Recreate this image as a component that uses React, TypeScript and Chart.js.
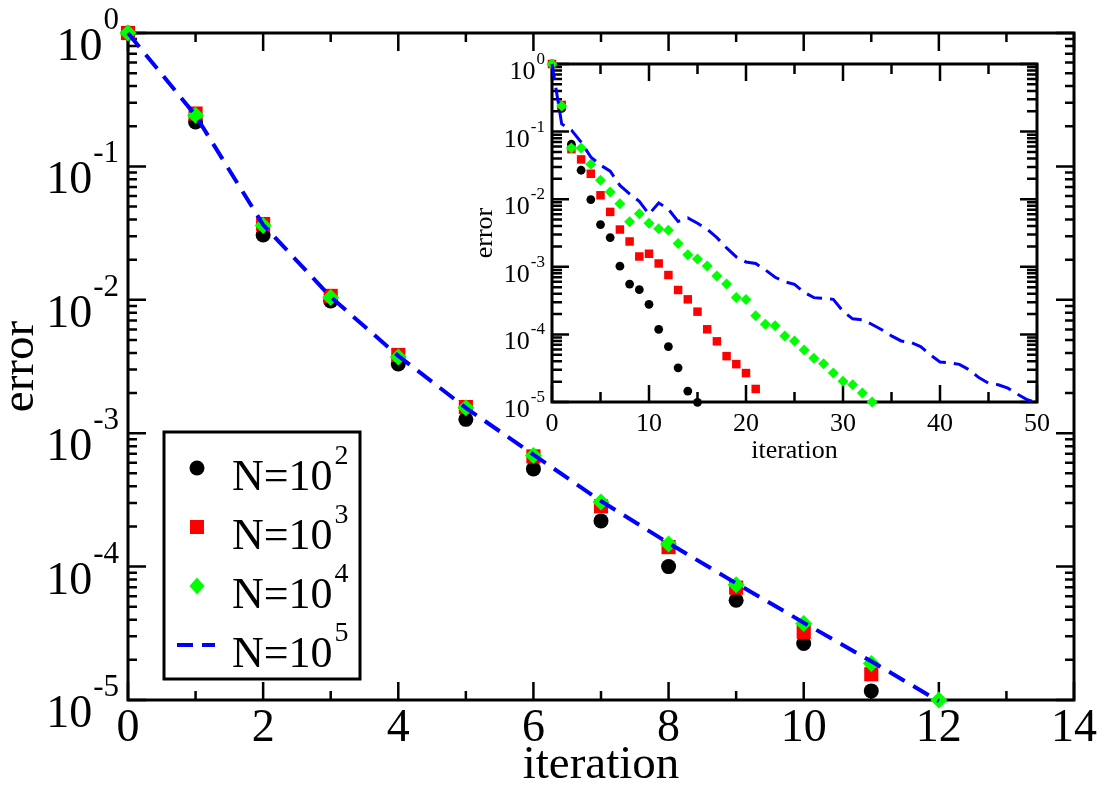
import React, { useEffect, useRef } from "react";
import { Chart, registerables } from "chart.js";
Chart.register(...registerables);

const FONT = '"Liberation Serif", "Times New Roman", serif';

// ---------- main plot data ----------
const mainIterations = [0, 1, 2, 3, 4, 5, 6, 7, 8, 9, 10, 11, 12];
const mainN2 = [1, 0.215, 0.0306, 0.0098, 0.0033, 0.00127, 0.00054, 0.00022, 0.0001, 0.000056, 0.0000265, 0.0000117];
const mainN3 = [1, 0.249, 0.037, 0.0107, 0.00386, 0.00157, 0.00067, 0.000283, 0.00014, 0.0000695, 0.0000324, 0.0000156];
const mainN4 = [1, 0.242, 0.036, 0.0104, 0.00372, 0.00155, 0.00068, 0.000305, 0.000148, 0.000073, 0.0000375, 0.0000188, 0.00001];
const mainN5 = [1, 0.241, 0.0365, 0.0105, 0.0038, 0.00155, 0.00069, 0.00031, 0.00015, 0.000075, 0.000038, 0.0000195, 0.0000098];

// ---------- inset data ----------
const insetIterations = [0, 1, 2, 3, 4, 5, 6, 7, 8, 9, 10, 11, 12, 13, 14, 15, 16, 17, 18, 19, 20, 21, 22, 23, 24, 25, 26, 27, 28, 29, 30, 31, 32, 33, 34, 35, 36, 37, 38, 39, 40, 41, 42, 43, 44, 45, 46, 47, 48, 49, 50];
const insetN2 = [1, 0.22, 0.065, 0.0268, 0.00986, 0.00422, 0.00271, 0.00102, 0.000556, 0.000459, 0.000279, 0.000119, 0.000066, 0.000032, 0.0000145, 0.0000099];
const insetN3 = [1, 0.248, 0.055, 0.0388, 0.0238, 0.01143, 0.00649, 0.00356, 0.00237, 0.00142, 0.00156, 0.00112, 0.000755, 0.000454, 0.00033, 0.000217, 0.000119, 0.000079, 0.0000477, 0.0000363, 0.0000268, 0.0000156];
const insetN4 = [1, 0.24, 0.057, 0.057, 0.0328, 0.019, 0.0128, 0.0086, 0.00462, 0.00607, 0.00442, 0.00364, 0.00348, 0.00221, 0.00151, 0.0013, 0.00103, 0.00073, 0.000556, 0.00035, 0.000327, 0.000188, 0.000141, 0.000134, 0.000095, 0.00008, 0.000059, 0.0000445, 0.0000367, 0.0000268, 0.0000202, 0.000018, 0.0000136, 0.00001];
const insetN5 = [1, 0.13, 0.105, 0.07, 0.042, 0.032, 0.026, 0.016, 0.012, 0.0093, 0.006, 0.0088, 0.0071, 0.0047, 0.0053, 0.0044, 0.0036, 0.0027, 0.0019, 0.0014, 0.00118, 0.00112, 0.0009, 0.0007, 0.0006, 0.00055, 0.00042, 0.00035, 0.00034, 0.00033, 0.00022, 0.00017, 0.000165, 0.00014, 0.000117, 0.000095, 0.00008, 0.000076, 0.000066, 0.00005, 0.000039, 0.000038, 0.000036, 0.00003, 0.000023, 0.000019, 0.000018, 0.000016, 0.000013, 0.0000108, 0.0000098];

// ---------- ticks / labels ----------
const mainXMajor = [0, 2, 4, 6, 8, 10, 12, 14];
const mainXMinor = [1, 3, 5, 7, 9, 11, 13];
const insetXMajor = [0, 10, 20, 30, 40, 50];
const insetXMinor = [5, 15, 25, 35, 45];
const yDecades = [0, -1, -2, -3, -4, -5];
const yMinorMult = [2, 3, 4, 5, 6, 7, 8, 9];
const legendBase = ["N=10", "N=10", "N=10", "N=10"];
const legendExp = ["2", "3", "4", "5"];
const axisTitleX = "iteration";
const axisTitleY = "error";

const toPts = (xs: number[], ys: number[]) => ys.map((v, i) => ({ x: xs[i], y: v }));

type Cfg = {
  xMajor: number[];
  xMinor: number[];
  majorLen: number;
  minorLen: number;
  tickWidth: number;
  frameWidth: number;
  baseSize: number;
  supSize: number;
  yLabelGap: number;
  baseDy: number;
  supDy: number;
  xLabelSize: number;
  xLabelDy: number;
  titleSize: number;
  xTitleDy: number;
  yTitleDx: number;
  legend?: boolean;
};

function drawFrame(chart: any, c: Cfg) {
  const { ctx, chartArea: a, scales } = chart;
  const xs = scales.x;
  const ys = scales.y;
  ctx.save();
  ctx.strokeStyle = "#000";
  ctx.lineCap = "butt";
  ctx.lineWidth = c.tickWidth;
  ctx.beginPath();
  const xt = (vals: number[], len: number) => {
    vals.forEach((v) => {
      const px = xs.getPixelForValue(v);
      ctx.moveTo(px, a.bottom);
      ctx.lineTo(px, a.bottom - len);
      ctx.moveTo(px, a.top);
      ctx.lineTo(px, a.top + len);
    });
  };
  xt(c.xMajor, c.majorLen);
  xt(c.xMinor, c.minorLen);
  const yt = (v: number, len: number) => {
    const py = ys.getPixelForValue(v);
    ctx.moveTo(a.left, py);
    ctx.lineTo(a.left + len, py);
    ctx.moveTo(a.right, py);
    ctx.lineTo(a.right - len, py);
  };
  yDecades.forEach((d) => {
    yt(Math.pow(10, d), c.majorLen);
    if (d < 0) yMinorMult.forEach((m) => yt(m * Math.pow(10, d), c.minorLen));
  });
  ctx.stroke();
  ctx.lineWidth = c.frameWidth;
  ctx.strokeRect(a.left, a.top, a.right - a.left, a.bottom - a.top);
  ctx.restore();
}

function drawLabels(chart: any, c: Cfg) {
  const { ctx, chartArea: a, scales } = chart;
  const xs = scales.x;
  const ys = scales.y;
  ctx.save();
  ctx.fillStyle = "#000";
  ctx.textBaseline = "alphabetic";
  ctx.font = `${c.xLabelSize}px ${FONT}`;
  ctx.textAlign = "center";
  c.xMajor.forEach((v) => {
    ctx.fillText(String(v), xs.getPixelForValue(v), a.bottom + c.xLabelDy);
  });
  yDecades.forEach((d) => {
    const py = ys.getPixelForValue(Math.pow(10, d));
    const exp = d === 0 ? "0" : "-" + String(-d);
    ctx.font = `${c.supSize}px ${FONT}`;
    const w = ctx.measureText(exp).width;
    const supX = a.left - c.yLabelGap - w;
    ctx.textAlign = "left";
    ctx.fillText(exp, supX, py + c.supDy);
    ctx.font = `${c.baseSize}px ${FONT}`;
    ctx.textAlign = "right";
    ctx.fillText("10", supX - 1, py + c.baseDy);
  });
  ctx.font = `${c.titleSize}px ${FONT}`;
  ctx.textAlign = "center";
  ctx.fillText(axisTitleX, (a.left + a.right) / 2, a.bottom + c.xTitleDy);
  ctx.save();
  ctx.translate(a.left - c.yTitleDx, (a.top + a.bottom) / 2);
  ctx.rotate(-Math.PI / 2);
  ctx.fillText(axisTitleY, 0, 0);
  ctx.restore();
  ctx.restore();
}

function drawLegend(chart: any) {
  const { ctx } = chart;
  const box = { l: 164, t: 432, r: 360, b: 679 };
  ctx.save();
  ctx.fillStyle = "#fff";
  ctx.fillRect(box.l, box.t, box.r - box.l, box.b - box.t);
  ctx.strokeStyle = "#000";
  ctx.lineWidth = 3;
  ctx.strokeRect(box.l, box.t, box.r - box.l, box.b - box.t);
  const mx = 197;
  const rowY = (i: number) => 468 + i * 59;
  const ds = chart.data.datasets;
  const order = [3, 2, 1, 0];
  order.forEach((di, i) => {
    const d = ds[di];
    const y = rowY(i);
    ctx.fillStyle = d.pointBackgroundColor;
    if (d.pointStyle === "circle") {
      ctx.beginPath();
      ctx.arc(mx, y, 7.5, 0, Math.PI * 2);
      ctx.fill();
    } else if (d.pointStyle === "rect") {
      ctx.fillRect(mx - 7, y - 7, 14, 14);
    } else if (d.pointStyle === "rectRot") {
      ctx.beginPath();
      ctx.moveTo(mx - 7.5, y);
      ctx.lineTo(mx, y - 8.5);
      ctx.lineTo(mx + 7.5, y);
      ctx.lineTo(mx, y + 8.5);
      ctx.closePath();
      ctx.fill();
    } else {
      ctx.strokeStyle = d.borderColor;
      ctx.lineWidth = 4;
      ctx.setLineDash([16, 9]);
      ctx.beginPath();
      ctx.moveTo(177, y);
      ctx.lineTo(215, y);
      ctx.stroke();
      ctx.setLineDash([]);
    }
    ctx.fillStyle = "#000";
    ctx.textBaseline = "alphabetic";
    ctx.textAlign = "left";
    ctx.font = `44px ${FONT}`;
    ctx.fillText(legendBase[i], 232, y + 22);
    const w = ctx.measureText(legendBase[i]).width;
    ctx.font = `28px ${FONT}`;
    ctx.fillText(legendExp[i], 232 + w + 2, y - 4);
  });
  ctx.restore();
}

function decorPlugin(id: string, c: Cfg) {
  return {
    id,
    beforeDatasetsDraw(chart: any) {
      drawFrame(chart, c);
    },
    afterDraw(chart: any) {
      drawLabels(chart, c);
      if (c.legend) drawLegend(chart);
    },
  };
}

function makeDatasets(
  xs: number[],
  s2: number[],
  s3: number[],
  s4: number[],
  s5: number[],
  r: { c: number; s: number; d: number; lw: number; dash: number[] }
) {
  return [
    {
      label: "N=10^5",
      data: toPts(xs, s5),
      borderColor: "#0000ff",
      backgroundColor: "#0000ff",
      borderWidth: r.lw,
      borderDash: r.dash,
      borderCapStyle: "butt",
      pointRadius: 0,
      showLine: true,
      tension: 0,
      clip: false,
      order: 0,
    },
    {
      label: "N=10^4",
      data: toPts(xs, s4),
      pointStyle: "rectRot",
      pointRadius: r.d,
      pointBackgroundColor: "#00ff00",
      pointBorderColor: "#00ff00",
      pointBorderWidth: 0,
      showLine: false,
      clip: false,
      order: 1,
    },
    {
      label: "N=10^3",
      data: toPts(xs, s3),
      pointStyle: "rect",
      pointRadius: r.s,
      pointBackgroundColor: "#ff0000",
      pointBorderColor: "#ff0000",
      pointBorderWidth: 0,
      showLine: false,
      clip: false,
      order: 2,
    },
    {
      label: "N=10^2",
      data: toPts(xs, s2),
      pointStyle: "circle",
      pointRadius: r.c,
      pointBackgroundColor: "#000000",
      pointBorderColor: "#000000",
      pointBorderWidth: 0,
      showLine: false,
      clip: false,
      order: 3,
    },
  ];
}

const mainCfg: Cfg = {
  xMajor: mainXMajor,
  xMinor: mainXMinor,
  majorLen: 18,
  minorLen: 9,
  tickWidth: 2.5,
  frameWidth: 3,
  baseSize: 46,
  supSize: 31,
  yLabelGap: 9,
  baseDy: 27,
  supDy: -4,
  xLabelSize: 46,
  xLabelDy: 41,
  titleSize: 47,
  xTitleDy: 78,
  yTitleDx: 95,
  legend: true,
};

const insetCfg: Cfg = {
  xMajor: insetXMajor,
  xMinor: insetXMinor,
  majorLen: 17,
  minorLen: 10,
  tickWidth: 2.5,
  frameWidth: 3,
  baseSize: 26,
  supSize: 17,
  yLabelGap: 7,
  baseDy: 15,
  supDy: 0,
  xLabelSize: 26,
  xLabelDy: 29,
  titleSize: 26,
  xTitleDy: 56,
  yTitleDx: 60,
};

function baseOptions(padding: any, xmax: number) {
  return {
    responsive: false,
    animation: false,
    events: [],
    layout: { padding },
    plugins: { legend: { display: false }, tooltip: { enabled: false }, title: { display: false } },
    scales: {
      x: { type: "linear", min: 0, max: xmax, display: false },
      y: { type: "logarithmic", min: 0.00001, max: 1, display: false },
    },
  };
}

export default function App() {
  const mainRef = useRef<HTMLCanvasElement>(null);
  const insetRef = useRef<HTMLCanvasElement>(null);

  useEffect(() => {
    const main = new Chart(mainRef.current as HTMLCanvasElement, {
      type: "scatter",
      data: {
        datasets: makeDatasets(mainIterations, mainN2, mainN3, mainN4, mainN5, {
          c: 7.5,
          s: 10,
          d: 8.5,
          lw: 4,
          dash: [18, 10],
        }) as any,
      },
      options: baseOptions({ left: 128, top: 33, right: 25, bottom: 87 }, 14) as any,
      plugins: [decorPlugin("mainDecor", mainCfg)],
    });
    const inset = new Chart(insetRef.current as HTMLCanvasElement, {
      type: "scatter",
      data: {
        datasets: makeDatasets(insetIterations, insetN2, insetN3, insetN4, insetN5, {
          c: 4.4,
          s: 6,
          d: 5.5,
          lw: 3,
          dash: [16, 8],
        }) as any,
      },
      options: baseOptions({ left: 112, top: 14, right: 13, bottom: 73 }, 50) as any,
      plugins: [decorPlugin("insetDecor", insetCfg)],
    });
    return () => {
      main.destroy();
      inset.destroy();
    };
  }, []);

  return (
    <div
      style={{
        position: "fixed",
        left: 0,
        top: 0,
        width: 1099,
        height: 787,
        background: "#fff",
        overflow: "hidden",
      }}
    >
      <canvas
        ref={mainRef}
        width={1099}
        height={787}
        style={{ position: "absolute", left: 0, top: 0, width: 1099, height: 787 }}
      />
      <canvas
        ref={insetRef}
        width={610}
        height={425}
        style={{ position: "absolute", left: 440, top: 50, width: 610, height: 425 }}
      />
    </div>
  );
}
